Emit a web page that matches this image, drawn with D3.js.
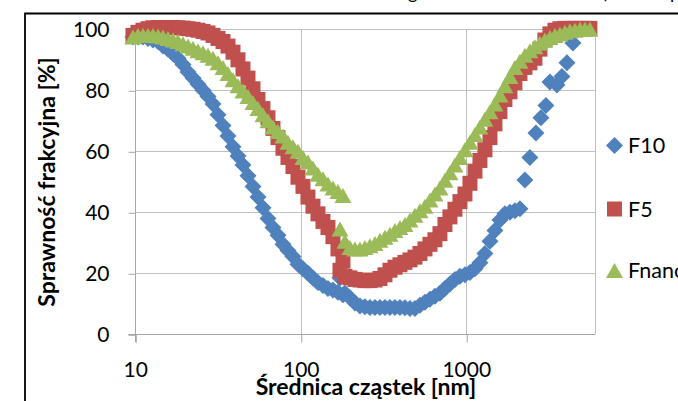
<!DOCTYPE html>
<html>
<head>
<meta charset="utf-8">
<script src="https://cdn.jsdelivr.net/npm/d3@7"></script>
<style>
body { margin: 0; background: #fff; }
svg { display: block; font-family: Lato, "Open Sans", sans-serif; }
</style>
</head>
<body>
<svg></svg>
<script>
let width = 678, height = 401;

// first scan (small particles)
const sizeA = [9.68, 10.38, 11.13, 11.93, 12.79, 13.72, 14.70, 15.76, 16.90, 18.11, 19.42, 20.82, 22.32, 23.93, 25.65,
    27.50, 29.48, 31.60, 33.88, 36.32, 38.94, 41.74, 44.75, 47.97, 51.43, 55.13, 59.10, 63.36, 67.92, 72.82, 78.06,
    83.68, 89.72, 96.18, 103.1, 110.5, 118.5, 127.0, 136.2, 146.0, 156.5, 167.8, 179.9];
const f10A = [97.5, 97.5, 97.5, 97, 96.5, 96, 94.5, 93.5, 92, 90.5, 88.5, 86, 84, 82, 80, 78, 75.5, 72, 68.5, 65,
    61.5, 58.5, 55.5, 52, 48.5, 45, 41.5, 38, 35, 32.5, 29.5, 27.5, 25.5, 23, 21.5, 20, 18.5, 17, 16, 15, 14.5, 13.8, 13];
const f5A = [98, 99, 99.7, 100.2, 100.5, 100.6, 100.6, 100.6, 100.6, 100.5, 100.4, 100.2, 100, 99.7, 99.3, 98.8, 98,
    97, 96, 94.5, 92.5, 90, 87, 84, 80.5, 77, 74, 71, 67.5, 64.5, 61, 58, 55, 51.5, 48.5, 45, 42, 39.5, 37, 35, 32, 28, 24];
const fnanA = [97.5, 98, 98, 98, 98, 97.8, 97.5, 97, 96.5, 96, 95.3, 94.5, 93.8, 93, 92.3, 91.5, 90.5, 89, 87.5, 85.5,
    83.5, 81.5, 79.8, 78, 76, 74, 72, 70, 68, 66.5, 65, 63, 61.5, 60, 58, 56.5, 54.5, 52.5, 51, 49.3, 48, 46.8, 45.5];

// second scan (larger particles)
const sizeB = [172.6, 185.0, 198.3, 212.6, 227.9, 244.3, 261.9, 280.8, 301.0, 322.7, 345.9, 370.9, 397.6, 426.2,
    456.9, 489.8, 525.2, 563.0, 603.6, 647.0, 693.6, 743.6, 797.2, 854.6, 916.2, 982.2, 1053, 1129, 1210, 1297, 1391,
    1491, 1598, 1713, 1837, 1969, 2111, 2263, 2426, 2601, 2788, 2989, 3204, 3436, 3683, 3948, 4233, 4538, 4864, 5215, 5590];
const f10B = [18.5, 13.5, 12, 10.3, 9.3, 9, 8.8, 8.8, 8.8, 8.8, 8.8, 8.8, 8.8, 8.7, 8.5, 8.5, 9.5, 10.5, 11.5, 12.5,
    13.5, 15, 16.5, 18, 19, 19.5, 20.3, 21.5, 23.5, 26.5, 30.5, 34, 37.5, 39.5, 40, 40.5, 41.2];
const f5B = [21, 19, 18.5, 18, 17.8, 17.6, 17.6, 17.8, 18.3, 19.5, 21, 22, 22.8, 23.6, 24.4, 25.3, 26.5, 28, 29.5, 31,
    33, 36, 38.5, 41, 43.5, 46, 49.5, 53.5, 57, 60.5, 64.5, 69, 73, 77, 79.5, 82.5, 85.5, 87.5, 89, 90.5,
    93.5, 96.5, 98.5, 99.7, 100.2, 100.3, 100.3, 100.3, 100.3, 100.3, 100.3];
const fnanB = [34.5, 30.5, 28.5, 28, 28, 28.5, 29, 29.8, 30.8, 31.8, 32.8, 34, 35, 36, 37.5, 39, 40.5, 42, 44, 46,
    48, 50.5, 53, 55.5, 58, 60.5, 63, 65.5, 68, 70.5, 73, 75.5, 78.5, 81.5, 84.5, 87.5, 89.5, 91.5, 93, 94.3,
    95.5, 96.5, 97.3, 98, 98.5, 99, 99.5, 99.7, 100, 100, 100];

// F10 coarse points
const sizeC = [2262, 2424, 2637, 2828, 3031, 3204, 3532, 3786, 4059, 4413];
const f10C = [50.6, 58, 66, 71, 75, 82.7, 81.7, 84.5, 89, 95.5];

const yTicks = [0, 20, 40, 60, 80, 100];
const xTicks = [10, 100, 1000];

let svg = d3.select("svg")
    .attr("width", width)
    .attr("height", height);

svg.append("rect").attr("width", width).attr("height", height).attr("fill", "#fff");

let x = d3.scaleLog().domain([10, 6000]).range([135.3, 595]);
let y = d3.scaleLinear().domain([0, 100]).range([334.3, 29.3]);

const px = v => Math.round(v) + 0.5;

// cut caption above the frame
svg.append("g")
    .attr("font-size", 18)
    .selectAll("text")
    .data([["g", 408], [")", 604], ["p", 670]])
    .enter().append("text")
    .attr("x", d => d[1]).attr("y", -1.5)
    .text(d => d[0]);

// chart frame
svg.append("path")
    .attr("d", "M25," + height + "V13.5H" + width)
    .attr("fill", "none")
    .attr("stroke", "#000")
    .attr("stroke-width", 1.8);

// gridlines
let grid = svg.append("g").attr("stroke", "#c0c0c0").attr("stroke-width", 1);
grid.selectAll("line.h")
    .data(yTicks.filter(d => d > 0))
    .enter().append("line")
    .attr("x1", x(10)).attr("x2", px(x(6000)))
    .attr("y1", d => px(y(d))).attr("y2", d => px(y(d)));
grid.selectAll("line.v")
    .data([100, 1000, 6000])
    .enter().append("line")
    .attr("x1", d => px(x(d))).attr("x2", d => px(x(d)))
    .attr("y1", px(y(100))).attr("y2", px(y(0)));

// y axis
let yAxis = svg.append("g")
    .attr("transform", "translate(" + px(x(10)) + ",0)")
    .call(d3.axisLeft(y).tickValues(yTicks).tickSize(7).tickPadding(19));
yAxis.selectAll("line").attr("stroke", "#a6a6a6").attr("transform", "translate(0,0.5)");
yAxis.select(".domain").remove();
yAxis.append("line").attr("y1", y(100)).attr("y2", y(0) + 8).attr("stroke", "#a6a6a6");
yAxis.selectAll("text")
    .attr("font-family", "Lato, 'Open Sans', sans-serif")
    .attr("font-size", 21)
    .attr("fill", "#000")
    .attr("dy", "0.36em");

// x axis
let xAxis = svg.append("g")
    .attr("transform", "translate(0," + px(y(0)) + ")")
    .call(d3.axisBottom(x).tickValues(xTicks).tickSize(8).tickFormat(d3.format("d")));
xAxis.select(".domain").remove();
xAxis.append("line").attr("x1", x(10) - 7).attr("x2", x(6000)).attr("stroke", "#a6a6a6");
xAxis.selectAll(".tick line").attr("stroke", "#a6a6a6").attr("transform", "translate(0.5,0)");
xAxis.selectAll("text")
    .attr("font-family", "Lato, 'Open Sans', sans-serif")
    .attr("font-size", 21)
    .attr("fill", "#000")
    .attr("y", 42.5)
    .attr("dy", 0);

// axis titles
svg.append("text")
    .attr("x", 366).attr("y", 395)
    .attr("text-anchor", "middle")
    .attr("font-size", 23).attr("font-weight", "bold")
    .text("Średnica cząstek [nm]");

svg.append("text")
    .attr("transform", "translate(55,182) rotate(-90)")
    .attr("text-anchor", "middle")
    .attr("font-size", 23).attr("font-weight", "bold")
    .text("Sprawność frakcyjna [%]");

// markers
const shapes = {
    diamond: "M0,-8.5L8.5,0L0,8.5L-8.5,0Z",
    square: "M-7.5,-7.5H7.5V7.5H-7.5Z",
    triangle: "M0,-7.5L8.5,7.5L-8.5,7.5Z"
};

let series = [
    { name: "F10", color: "#4f81bd", shape: "diamond", parts: [[sizeA, f10A], [sizeB, f10B], [sizeC, f10C]] },
    { name: "F5", color: "#c0504d", shape: "square", parts: [[sizeA, f5A], [sizeB, f5B]] },
    { name: "Fnano", color: "#9bbb59", shape: "triangle", parts: [[sizeA, fnanA], [sizeB, fnanB]] }
];

series.forEach(s => {
    let pts = [];
    s.parts.forEach(p => {
        p[1].forEach((v, i) => { if (v != null) pts.push([p[0][i], v]); });
    });
    svg.append("g")
        .selectAll("path")
        .data(pts)
        .enter()
        .append("path")
        .attr("d", shapes[s.shape])
        .attr("fill", s.color)
        .attr("transform", d => "translate(" + x(d[0]) + "," + y(d[1]) + ")");
});

// legend
let legend = svg.append("g")
    .selectAll("g")
    .data(series)
    .enter().append("g")
    .attr("transform", (d, i) => "translate(614.5," + [145.5, 209, 270.5][i] + ")");
legend.append("path")
    .attr("d", d => shapes[d.shape])
    .attr("fill", d => d.color);
legend.append("text")
    .attr("x", 13.5).attr("y", 7.5)
    .attr("font-size", 21.5)
    .text(d => d.name);
</script>
</body>
</html>
